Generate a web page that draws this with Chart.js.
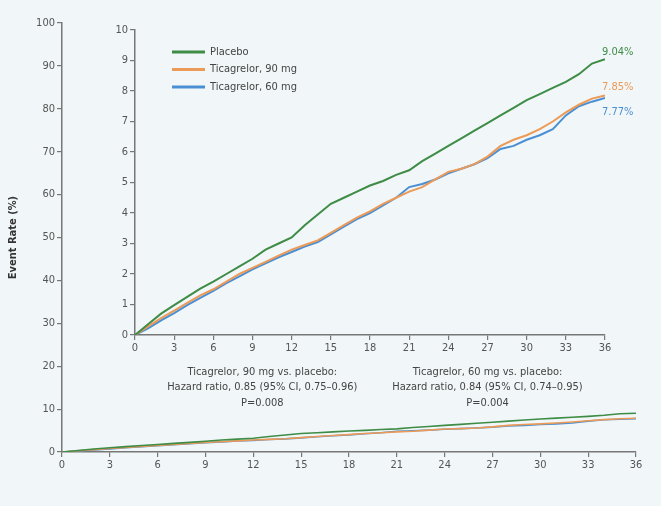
<!DOCTYPE html>
<html><head><meta charset="utf-8">
<script src="https://cdn.jsdelivr.net/npm/chart.js@4"></script>
<style>
html,body{margin:0;padding:0;background:#f1f6f8;}
#wrap{position:relative;width:661px;height:506px;overflow:hidden;}
canvas{position:absolute;left:0;top:0;}
</style></head><body>
<div id="wrap"><canvas id="outer" width="661" height="506"></canvas><canvas id="inner" width="661" height="506"></canvas></div>
<script>
const months = [0,1,2,3,4,5,6,7,8,9,10,11,12,13,14,15,16,17,18,19,20,21,22,23,24,25,26,27,28,29,30,31,32,33,34,35,36];
const placebo = [0,0.35,0.7,0.98,1.25,1.52,1.75,2.0,2.25,2.5,2.8,3.0,3.2,3.6,3.95,4.3,4.5,4.7,4.9,5.05,5.25,5.4,5.7,5.95,6.2,6.45,6.7,6.95,7.2,7.45,7.7,7.9,8.1,8.3,8.55,8.9,9.04];
const tica90 = [0,0.28,0.55,0.8,1.05,1.3,1.5,1.75,2.0,2.2,2.4,2.6,2.8,2.95,3.1,3.35,3.6,3.85,4.05,4.3,4.5,4.7,4.85,5.1,5.35,5.45,5.6,5.85,6.2,6.4,6.55,6.75,7.0,7.3,7.55,7.75,7.85];
const tica60 = [0,0.22,0.48,0.72,0.98,1.22,1.45,1.7,1.92,2.15,2.35,2.55,2.72,2.9,3.05,3.3,3.55,3.8,4.0,4.25,4.5,4.85,4.95,5.1,5.3,5.45,5.6,5.8,6.1,6.2,6.4,6.55,6.75,7.2,7.5,7.65,7.77];
const seriesNames = ['Placebo','Ticagrelor, 90 mg','Ticagrelor, 60 mg'];
const endLabels = ['9.04%','7.85%','7.77%'];
const comparisons = [
  ['Ticagrelor, 90 mg vs. placebo:','Hazard ratio, 0.85 (95% CI, 0.75\u20130.96)','P=0.008'],
  ['Ticagrelor, 60 mg vs. placebo:','Hazard ratio, 0.84 (95% CI, 0.74\u20130.95)','P=0.004']
];
const colors = ['#3e8c46','#eb9a57','#4a8fd3'];
const FONT = "'Liberation Sans Narrow','DejaVu Sans Condensed','Liberation Sans',sans-serif";

function pts(arr){ return months.map((m,i)=>({x:m,y:arr[i]})); }
function makeDatasets(w){
  return [placebo,tica90,tica60].map((a,i)=>({label:seriesNames[i],data:pts(a),borderColor:colors[i],borderWidth:w,pointRadius:0,fill:false,tension:0}));
}
function axis(min,max,step,fit){
  return {
    type:'linear',min:min,max:max,
    ticks:{stepSize:step,color:'#555',font:{family:FONT,size:11},padding:2},
    grid:{drawOnChartArea:false,drawTicks:true,tickLength:5,color:'#777',lineWidth:1.2},
    border:{display:true,color:'#777',width:1.5},
    afterFit:fit
  };
}

const outerOpts = {
  responsive:false,animation:false,events:[],
  layout:{padding:{top:23,right:25,left:0,bottom:0}},
  plugins:{legend:{display:false},tooltip:{enabled:false}},
  scales:{
    x:axis(0,36,3,s=>{s.height=54;}),
    y:Object.assign(axis(0,100,10,s=>{s.width=62;}),{title:{display:true,text:'Event Rate (%)',color:'#333',font:{family:FONT,size:11,weight:'bold'},padding:{top:7,bottom:2}}})
  }
};
new Chart(document.getElementById('outer'),{type:'line',data:{datasets:makeDatasets(1.6)},options:outerOpts});

const annot = {
  id:'annot',
  afterDraw(chart){
    const ctx=chart.ctx, ca=chart.chartArea, xs=chart.scales.x, ys=chart.scales.y;
    ctx.save();
    const lx=ca.left+37, ly=ca.top+22;
    seriesNames.forEach((n,i)=>{
      const y=ly+i*17.5;
      ctx.strokeStyle=colors[i];ctx.lineWidth=3;
      ctx.beginPath();ctx.moveTo(lx,y);ctx.lineTo(lx+33,y);ctx.stroke();
      ctx.fillStyle='#444';ctx.font='11px '+FONT;ctx.textAlign='left';ctx.textBaseline='middle';
      ctx.fillText(n,lx+38,y);
    });
    const ends=[placebo,tica90,tica60];
    const yOff=[-7,-8,14];
    ends.forEach((a,i)=>{
      ctx.fillStyle=colors[i];ctx.font='11px '+FONT;ctx.textAlign='left';ctx.textBaseline='middle';
      ctx.fillText(endLabels[i],xs.getPixelForValue(36)-3,ys.getPixelForValue(a[a.length-1])+yOff[i]);
    });
    const cx=[xs.getPixelForValue(9.75),xs.getPixelForValue(27)];
    comparisons.forEach((lines,j)=>{
      lines.forEach((t,k)=>{
        ctx.fillStyle='#444';ctx.font='11px '+FONT;ctx.textAlign='center';ctx.textBaseline='middle';
        ctx.fillText(t,cx[j],ca.bottom+37+k*15.5);
      });
    });
    ctx.restore();
  }
};

const innerOpts = {
  responsive:false,animation:false,events:[],
  layout:{padding:{top:30,right:56,left:0,bottom:0}},
  plugins:{legend:{display:false},tooltip:{enabled:false}},
  scales:{
    x:axis(0,36,3,s=>{s.height=171;}),
    y:axis(0,10,1,s=>{s.width=135;})
  }
};
new Chart(document.getElementById('inner'),{type:'line',data:{datasets:makeDatasets(2)},options:innerOpts,plugins:[annot]});
</script>
</body></html>
